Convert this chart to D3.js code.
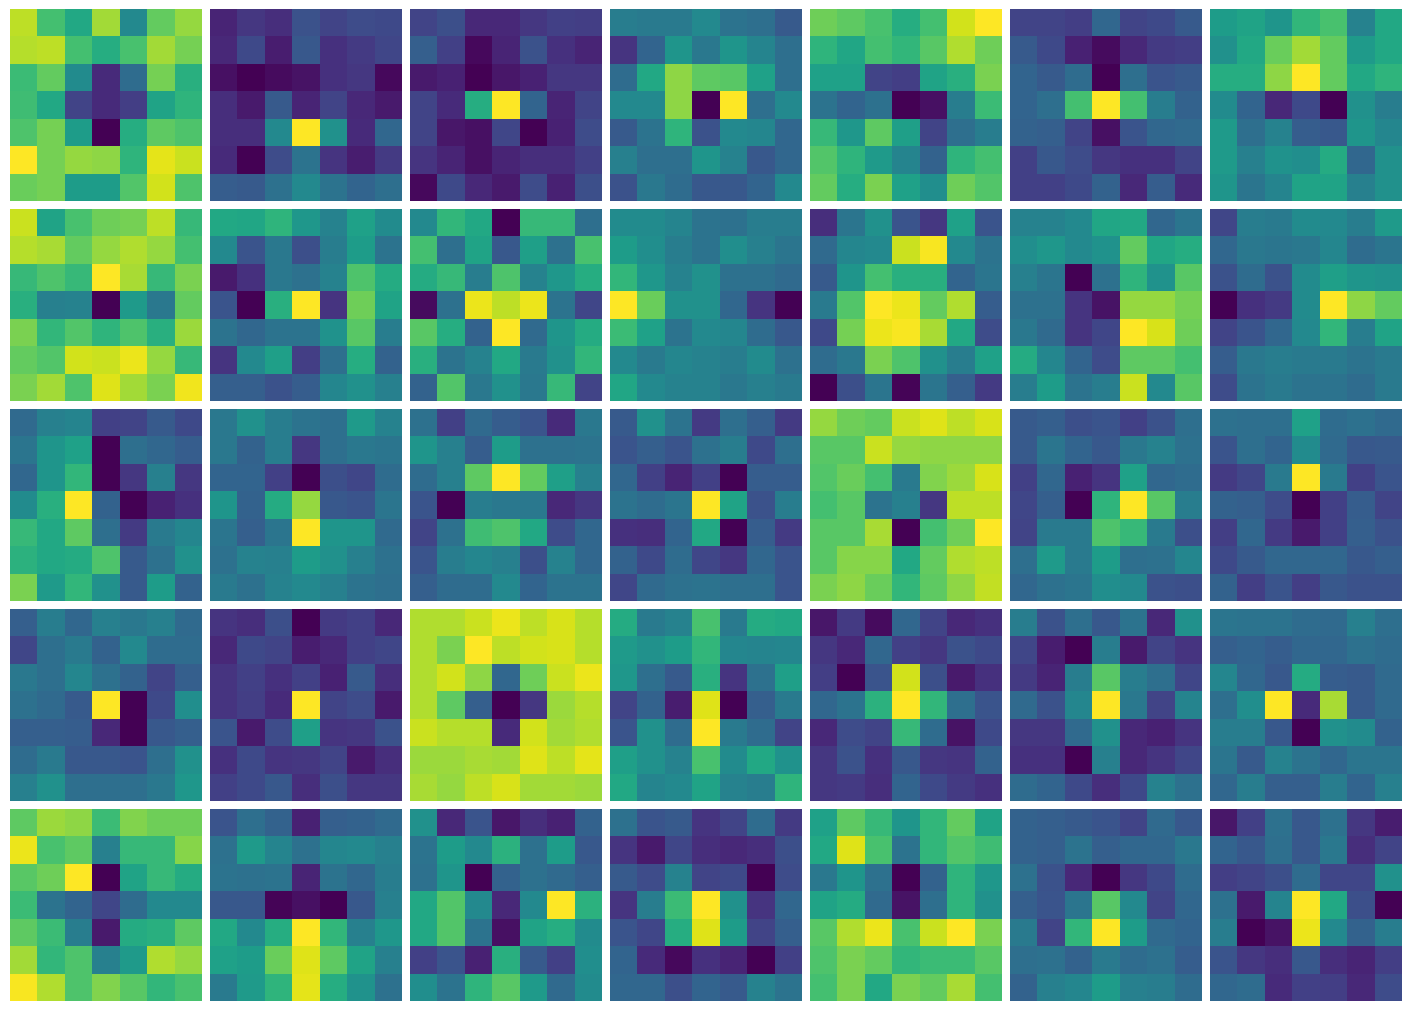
<!DOCTYPE html>
<html>
<head>
<meta charset="utf-8">
<script src="https://cdnjs.cloudflare.com/ajax/libs/d3/7.8.5/d3.min.js"></script>
<style>
    body { margin: 0; background: #fff; }
    svg { display: block; }
</style>
</head>
<body>
<svg></svg>
<script>
// one list per figure row, each holds 7 small 7x7 maps (0 = darkest, 100 = brightest)
var row1 = [
    [[90,70,60,86,47,76,84],[89,90,70,62,71,86,79],[68,76,48,12,35,79,63],[69,60,20,12,18,58,65],[72,79,55,0,62,75,72],[100,79,84,83,65,96,92],[77,79,55,55,73,93,72]],
    [[10,16,13,25,20,23,22],[11,22,8,27,14,17,21],[4,0,3,5,14,16,2],[13,7,28,10,20,11,7],[13,13,47,100,50,12,33],[12,0,23,38,15,8,17],[29,28,37,47,38,32,36]],
    [[20,24,11,11,16,19,18],[30,19,2,10,25,14,10],[7,9,0,6,9,16,16],[20,12,62,100,32,10,20],[20,6,4,21,0,9,23],[15,10,4,10,13,13,19],[2,22,11,7,23,9,24]],
    [[42,41,41,47,38,36,28],[15,32,52,40,52,45,36],[35,60,83,75,74,57,36],[47,47,83,0,100,36,47],[28,38,65,25,47,46,33],[43,36,36,52,44,27,33],[25,40,35,27,27,32,47]],
    [[78,75,71,62,70,93,100],[65,59,70,66,74,88,78],[57,57,20,18,58,63,80],[38,32,37,0,4,42,68],[67,53,75,56,20,36,42],[73,65,54,45,31,65,70],[76,62,80,57,49,78,73]],
    [[20,20,18,33,20,22,28],[28,22,9,3,11,17,18],[32,28,35,0,36,26,28],[32,36,70,100,70,42,31],[31,30,20,4,26,33,34],[19,27,23,16,14,14,20],[19,19,22,31,11,29,12]],
    [[55,58,52,66,71,44,60],[50,60,77,86,76,54,60],[62,62,83,100,76,60,65],[48,32,11,22,0,50,42],[54,36,44,29,27,52,46],[54,43,51,49,61,33,50],[52,39,45,58,58,43,50]]
];
var row2 = [
    [[92,58,71,78,79,90,67],[89,87,76,84,88,84,70],[67,72,67,100,87,67,80],[63,43,44,0,54,40,76],[80,66,73,65,72,63,85],[76,73,93,92,97,84,67],[80,86,72,95,86,80,98]],
    [[60,59,65,53,44,57,48],[47,26,40,24,42,55,38],[7,14,40,37,44,72,61],[26,0,63,100,15,78,58],[38,33,38,38,51,74,42],[15,47,56,18,36,62,31],[30,30,25,29,46,50,43]],
    [[47,66,60,0,67,67,36],[70,36,58,27,56,37,71],[61,67,42,72,44,53,62],[3,37,97,90,97,38,21],[74,62,31,100,34,52,61],[63,38,44,60,41,50,66],[31,73,40,50,40,67,20]],
    [[48,48,45,38,37,42,42],[55,49,42,38,49,43,39],[66,53,44,50,37,37,34],[100,77,50,50,33,15,0],[68,57,38,47,46,35,27],[47,41,46,44,42,48,37],[59,47,44,44,40,43,41]],
    [[13,39,50,26,16,57,26],[34,46,47,92,99,47,38],[28,52,70,63,63,32,39],[41,73,100,97,76,88,29],[22,79,97,99,87,60,23],[35,40,80,72,50,42,57],[0,24,39,1,39,30,17]],
    [[44,44,47,59,60,33,39],[49,53,47,51,76,59,62],[43,39,0,37,65,51,74],[37,37,15,5,84,84,79],[40,34,15,21,100,94,78],[61,46,32,23,75,75,70],[42,55,38,42,92,47,74]],
    [[21,42,41,48,47,42,54],[33,40,39,40,46,35,39],[25,35,25,48,56,52,51],[0,14,17,48,100,83,76],[20,26,33,47,66,42,58],[29,40,42,41,41,38,41],[23,38,41,38,38,35,41]]
];
var row3 = [
    [[34,43,45,19,20,28,22],[39,52,57,0,36,33,29],[33,52,66,0,16,43,16],[48,63,100,31,0,9,14],[67,60,75,36,17,41,46],[64,60,61,72,28,37,50],[80,54,66,50,28,55,31]],
    [[40,50,42,38,36,54,44],[40,31,42,16,36,40,39],[32,32,19,0,24,21,35],[52,31,61,84,27,26,39],[39,30,39,100,52,52,34],[37,44,43,55,50,43,37],[41,37,44,47,43,38,36]],
    [[37,19,34,29,26,12,40],[52,43,29,55,37,37,38],[35,43,75,100,76,56,43],[26,0,42,40,40,11,16],[20,37,69,72,60,23,33],[26,42,46,43,24,44,33],[30,35,35,47,32,38,38]],
    [[28,50,38,17,36,30,17],[26,30,26,37,42,22,36],[33,19,10,19,0,29,29],[38,35,39,100,58,25,42],[14,13,32,60,0,29,17],[31,22,35,21,16,33,26],[21,34,37,38,36,36,26]],
    [[84,78,76,92,95,90,94],[74,74,92,84,83,83,83],[73,77,70,41,81,85,94],[70,74,38,43,16,90,90],[74,74,87,0,70,78,100],[74,82,82,60,76,88,90],[80,83,77,66,75,83,91]],
    [[28,30,24,26,19,25,36],[28,39,32,27,40,44,37],[19,33,9,15,57,33,35],[21,30,0,65,100,74,42],[20,41,41,72,67,41,24],[36,54,41,55,36,37,46],[33,37,39,49,47,25,24]],
    [[37,36,36,57,35,37,34],[26,36,32,48,34,27,28],[17,21,41,100,41,19,26],[31,30,23,0,19,29,20],[18,33,17,7,19,30,25],[22,28,33,33,33,27,30],[31,18,26,18,27,25,25]]
];
var row4 = [
    [[30,42,33,43,40,43,34],[21,36,41,31,47,35,35],[40,36,46,37,31,20,30],[37,34,28,100,0,22,49],[30,30,29,11,0,27,30],[35,41,27,27,26,36,50],[43,50,36,36,36,40,53]],
    [[15,13,24,0,17,19,11],[11,22,20,8,11,19,21],[15,19,14,19,9,28,13],[15,18,12,100,20,23,7],[26,7,23,56,15,16,25],[14,22,15,16,20,7,13],[19,22,27,13,24,16,16]],
    [[88,88,92,97,90,94,89],[88,80,100,90,93,94,89],[88,93,83,33,78,92,97],[88,75,30,0,16,85,89],[92,89,89,12,93,86,88],[85,85,87,86,95,90,96],[87,84,90,94,86,86,85]],
    [[61,41,44,71,41,61,60],[54,50,55,66,46,45,46],[53,36,28,63,15,37,56],[20,31,8,95,0,30,41],[26,50,35,100,41,35,20],[56,50,44,71,48,60,51],[60,45,47,58,44,42,65]],
    [[6,17,3,33,20,11,14],[16,11,33,19,16,25,22],[18,0,26,93,24,7,14],[33,38,64,100,66,36,26],[11,23,20,67,35,5,22],[16,25,14,27,16,15,31],[16,17,13,32,22,17,14]],
    [[42,25,36,27,38,11,50],[21,8,0,42,7,20,15],[17,10,42,74,42,36,21],[34,25,46,100,40,20,45],[16,16,34,50,11,9,15],[14,14,0,43,11,15,21],[35,32,22,13,22,44,37]],
    [[39,38,38,35,34,43,36],[30,32,29,33,33,37,35],[46,33,27,61,29,28,34],[36,49,100,12,87,28,34],[42,42,27,0,50,48,31],[39,28,44,38,33,39,39],[33,42,30,30,42,32,43]]
];
var row5 = [
    [[75,85,83,68,81,78,78],[97,71,75,43,67,67,82],[74,78,100,0,58,67,61],[68,38,32,21,35,47,47],[75,68,42,7,61,63,75],[86,66,72,43,54,88,84],[99,88,72,81,74,66,71]],
    [[26,36,31,9,30,31,34],[37,54,45,37,46,47,43],[38,37,38,10,38,33,42],[27,27,1,4,0,27,43],[60,47,62,100,66,43,53],[57,55,77,95,75,58,43],[41,54,65,96,62,51,37]],
    [[50,11,26,6,13,9,31],[38,55,47,64,37,55,27],[37,52,0,31,37,34,30],[60,73,47,11,47,100,64],[60,73,38,4,58,62,48],[19,26,9,63,28,19,49],[49,38,65,74,54,34,48]],
    [[37,26,28,15,20,35,17],[15,7,21,13,11,13,24],[28,23,44,20,22,0,23],[15,42,68,100,50,15,33],[26,21,62,95,55,20,30],[32,12,2,14,10,0,19],[33,33,24,32,28,44,38]],
    [[57,75,67,52,66,76,58],[60,95,71,38,66,73,69],[40,52,37,0,31,65,53],[58,61,34,5,36,65,50],[74,88,97,71,92,100,80],[72,80,76,66,68,68,74],[70,80,60,80,76,87,70]],
    [[31,30,28,26,20,34,27],[31,30,38,30,33,33,40],[37,25,11,0,16,22,35],[30,26,39,74,47,20,33],[41,20,66,100,55,34,32],[36,37,31,41,35,37,29],[31,43,46,55,43,42,35]],
    [[6,19,37,27,37,16,8],[32,27,36,27,40,13,20],[18,20,24,35,21,21,50],[37,7,45,100,60,24,0],[42,0,5,97,47,31,42],[26,16,13,27,13,10,18],[33,35,12,19,18,11,23]]
];

var rows = [row1, row2, row3, row4, row5];

var width = 1411,
    height = 1011;

var svg = d3.select("svg")
    .attr("width", width)
    .attr("height", height);

var color = d3.scaleSequential(d3.interpolateViridis).domain([0, 100]);

// panel positions in the figure
var panelX = d3.scaleBand().domain(d3.range(7)).range([10, 1402]).paddingInner(8 / 200);
var panelY = d3.scaleBand().domain(d3.range(5)).range([9, 1001]).paddingInner(8 / 200);

// cell positions inside one panel
var cellX = d3.scaleBand().domain(d3.range(7)).range([0, panelX.bandwidth()]);
var cellY = d3.scaleBand().domain(d3.range(7)).range([0, panelY.bandwidth()]);

rows.forEach(function (row, r) {
    row.forEach(function (panel, c) {
        var g = svg.append("g")
            .attr("transform", "translate(" + panelX(c) + "," + panelY(r) + ")");

        panel.forEach(function (vals, i) {
            g.selectAll(null)
                .data(vals)
                .enter()
                .append("rect")
                .attr("x", function (d, j) { return cellX(j); })
                .attr("y", cellY(i))
                .attr("width", cellX.bandwidth())
                .attr("height", cellY.bandwidth())
                .attr("shape-rendering", "crispEdges")
                .attr("fill", function (d) { return color(d); });
        });
    });
});
</script>
</body>
</html>
